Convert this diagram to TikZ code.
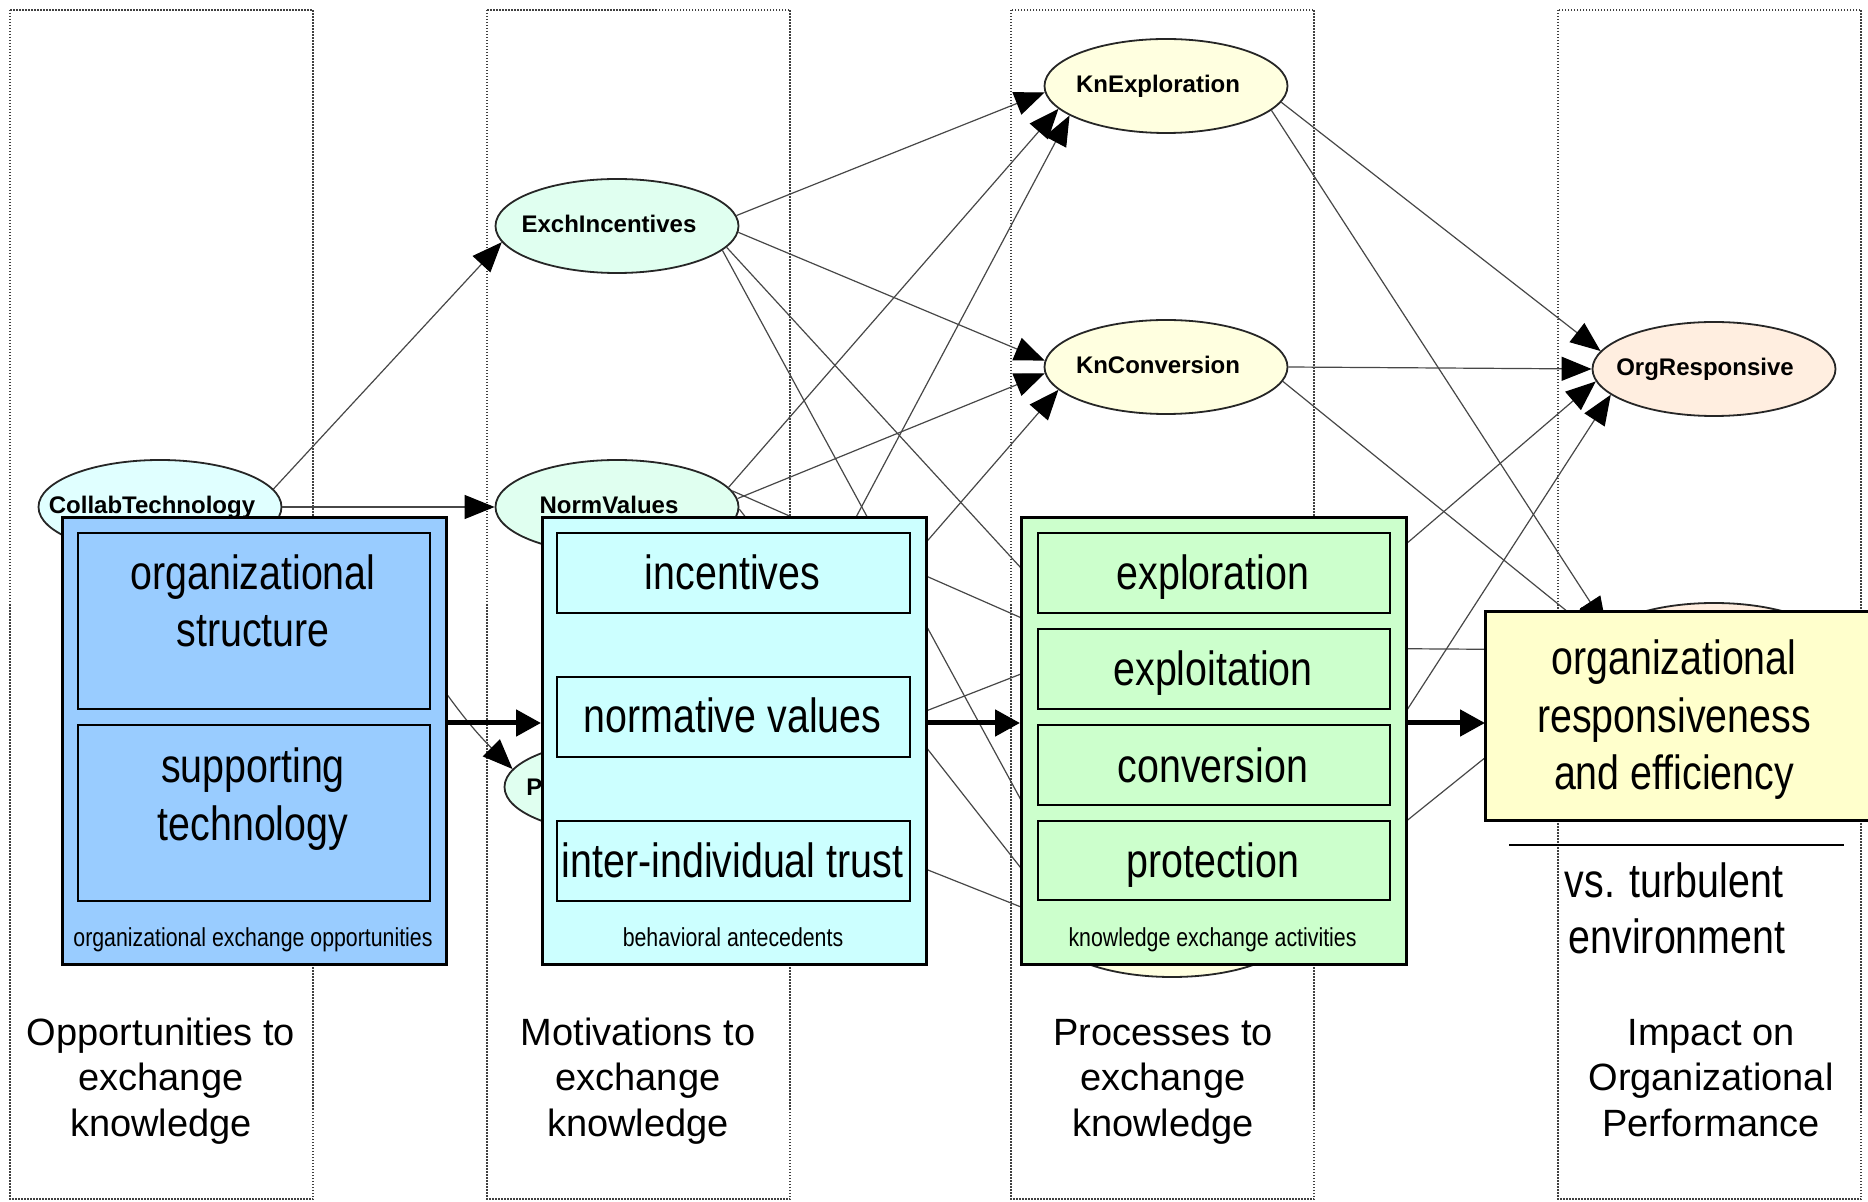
\documentclass[tikz,border=0pt]{standalone}
\usepackage{fontspec}
\setmainfont{Liberation Sans}
\newfontfamily\narrowfont[FakeStretch=0.82]{Liberation Sans}
\usetikzlibrary{shapes.geometric,arrows.meta,calc}

\definecolor{ctfill}{RGB}{224,255,255}
\definecolor{motfill}{RGB}{224,255,240}
\definecolor{knfill}{RGB}{255,255,224}
\definecolor{orgfill}{RGB}{255,238,224}
\definecolor{opsblue}{RGB}{153,204,255}
\definecolor{motcyan}{RGB}{204,255,255}
\definecolor{procgreen}{RGB}{204,255,204}
\definecolor{impyellow}{RGB}{255,255,204}

\begin{document}
\begin{tikzpicture}[x=0.5pt,y=-0.5pt,
  colframe/.style={draw=black!75, line width=0.7pt, dash pattern=on 0.75pt off 0.75pt},
  gnode/.style={ellipse, draw=black!85, line width=0.9pt, minimum width=121.5pt, minimum height=47pt, inner sep=0pt},
  gtext/.style={font=\bfseries\fontsize{12}{14}\selectfont, anchor=base, inner sep=0pt},
  edge/.style={draw=black!72, line width=0.6pt, -{Triangle[length=15pt,width=12pt,color=black]}},
  panel/.style={draw=black, line width=1.5pt, inner sep=0pt, anchor=north west},
  item/.style={draw=black, line width=1.2pt, inner sep=0pt, anchor=north west},
  bigtext/.style={font=\narrowfont\fontsize{24}{28}\selectfont, anchor=base, inner sep=0pt},
  captext/.style={font=\narrowfont\fontsize{13}{15}\selectfont, anchor=base, inner sep=0pt},
  coltext/.style={font=\fontsize{19}{23}\selectfont, anchor=base, inner sep=0pt},
  bigarrow/.style={line width=2.5pt, -{Triangle[length=12.5pt,width=13pt]}}
]
\useasboundingbox (0,0) rectangle (1868,1202);
\fill[white] (0,0) rectangle (1868,1202);

% stage columns
\draw[colframe] (10,10) rectangle (313,1199);
\draw[colframe] (487,10) rectangle (790,1199);
\draw[colframe] (1011,10) rectangle (1314,1199);
\draw[colframe] (1558,10) rectangle (1861,1199);

% graph nodes
\node[gnode, fill=ctfill]  (CT) at (160,507) {};
\node[gnode, fill=motfill] (EI) at (617,226) {};
\node[gnode, fill=motfill] (NV) at (617,507) {};
\node[gnode, fill=motfill] (PT) at (626,787) {};
\node[gnode, fill=knfill]  (KE) at (1166,86) {};
\node[gnode, fill=knfill]  (KC) at (1166,367) {};
\node[gnode, fill=knfill]  (K3) at (1174,648) {};
\node[gnode, fill=knfill]  (K4) at (1172,930) {};
\node[gnode, fill=orgfill] (OR) at (1714,369) {};
\node[gnode, fill=orgfill] (OE) at (1714,650) {};

\node[gtext] (CTt) at ($(CT)+(-8,7)$) {CollabTechnology};
\node[gtext] (EIt) at ($(EI)+(-8,7)$) {ExchIncentives};
\node[gtext] (NVt) at ($(NV)+(-8,7)$) {NormValues};
\node[gtext, anchor=base west] (PTt) at (526,795) {P};
\node[gtext] (KEt) at ($(KE)+(-8,7)$) {KnExploration};
\node[gtext] (KCt) at ($(KC)+(-8,7)$) {KnConversion};
\node[gtext] (ORt) at ($(OR)+(-9,7)$) {OrgResponsive};

% graph edges
\draw[edge] (CT.9) -- (EI.188);
\draw[edge] (CT.0) -- (NV.180);
\draw[edge] (CT.-15) to[out=-15,in=135] (PT.171);
\draw[edge] (EI.5) -- (KE.183);
\draw[edge] (EI.-3) -- (KC.177);
\draw[edge] (EI.-11) -- (K3.166);
\draw[edge] (EI.-13) -- (K4.163);
\draw[edge] (NV.10) -- (KE.192);
\draw[edge] (NV.4) -- (KC.183);
\draw[edge] (NV.8) -- (K3.173);
\draw[edge] (NV.-1) -- (K4.172);
\draw[edge] (PT.15) -- (KE.197);
\draw[edge] (PT.12) -- (KC.192);
\draw[edge] (PT.3) -- (K3.186);
\draw[edge] (PT.-5) -- (K4.175);
\draw[edge] (KE.-8) -- (OR.171);
\draw[edge] (KE.-13) -- (OE.168);
\draw[edge] (KC.0) -- (OR.180);
\draw[edge] (KC.-7) -- (OE.173);
\draw[edge] (K3.4) -- (OR.186);
\draw[edge] (K3.0) -- (OE.180);
\draw[edge] (K4.12) -- (OR.194);
\draw[edge] (K4.7) -- (OE.188);

% opportunities panel
\node[panel, fill=opsblue, minimum width=192pt, minimum height=223.5pt] (ops) at (61,516) {};
\node[item, fill=opsblue, minimum width=176pt, minimum height=88pt] (opsA) at (77,532) {};
\node[item, fill=opsblue, minimum width=176pt, minimum height=88pt] (opsB) at (77,724) {};
\node[bigtext] (opsA1) at (253,590) {organizational};
\node[bigtext] (opsA2) at (253,647) {structure};
\node[bigtext] (opsB1) at (253,783) {supporting};
\node[bigtext] (opsB2) at (253,840) {technology};
\node[captext] (opsC) at (253,946) {organizational exchange opportunities};

% motivations panel
\node[panel, fill=motcyan, minimum width=192pt, minimum height=223.5pt] (mot) at (541,516) {};
\node[item, fill=motcyan, minimum width=176.5pt, minimum height=40pt] (motA) at (556,532) {};
\node[item, fill=motcyan, minimum width=176.5pt, minimum height=40pt] (motB) at (556,676) {};
\node[item, fill=motcyan, minimum width=176.5pt, minimum height=40pt] (motC) at (556,820) {};
\node[bigtext] (motA1) at (732.5,590) {incentives};
\node[bigtext] (motB1) at (732.5,733) {normative values};
\node[bigtext] (motC1) at (732.5,877) {inter-individual trust};
\node[captext] (motCap) at (733,946) {behavioral antecedents};

% processes panel
\node[panel, fill=procgreen, minimum width=192.5pt, minimum height=223.5pt] (proc) at (1020,516) {};
\node[item, fill=procgreen, minimum width=176pt, minimum height=40pt] (procA) at (1037,532) {};
\node[item, fill=procgreen, minimum width=176pt, minimum height=40pt] (procB) at (1037,628) {};
\node[item, fill=procgreen, minimum width=176pt, minimum height=40pt] (procC) at (1037,724) {};
\node[item, fill=procgreen, minimum width=176pt, minimum height=39.5pt] (procD) at (1037,820) {};
\node[bigtext] (procA1) at (1213,590) {exploration};
\node[bigtext] (procB1) at (1213,686) {exploitation};
\node[bigtext] (procC1) at (1213,782) {conversion};
\node[bigtext] (procD1) at (1213,877) {protection};
\node[captext] (procCap) at (1212.5,946) {knowledge exchange activities};

% impact panel, open at the right edge
\node[fill=impyellow, anchor=north west, inner sep=0pt, minimum width=191.5pt, minimum height=104pt] (impact) at (1485,612) {};
\draw[line width=1.5pt] (impact.north east) -- (impact.north west) -- (impact.south west) -- (impact.south east);
\node[bigtext] (imp1) at (1674,675) {organizational};
\node[bigtext] (imp2) at (1674,733) {responsiveness};
\node[bigtext] (imp3) at (1674,790) {and efficiency};
\draw[line width=0.8pt] (1509,845) -- (1844,845);
\node[bigtext] (env1) at (1674,897) {vs. turbulent};
\node[bigtext] (env2) at (1677,953) {environment};

% flow between the panels
\coordinate (flow) at (0,723);
\draw[bigarrow] (ops.east |- flow) -- (mot.west |- flow);
\draw[bigarrow] (mot.east |- flow) -- (proc.west |- flow);
\draw[bigarrow] (proc.east |- flow) -- (impact.west |- flow);

% stage titles
\node[coltext] (s1a) at (161,1045) {Opportunities to};
\node[coltext] (s1b) at (161,1090) {exchange};
\node[coltext] (s1c) at (161,1136) {knowledge};
\node[coltext] (s2a) at (638,1045) {Motivations to};
\node[coltext] (s2b) at (638,1090) {exchange};
\node[coltext] (s2c) at (638,1136) {knowledge};
\node[coltext] (s3a) at (1163,1045) {Processes to};
\node[coltext] (s3b) at (1163,1090) {exchange};
\node[coltext] (s3c) at (1163,1136) {knowledge};
\node[coltext] (s4a) at (1711,1045) {Impact on};
\node[coltext] (s4b) at (1711,1090) {Organizational};
\node[coltext] (s4c) at (1711,1136) {Performance};
\end{tikzpicture}
\end{document}
